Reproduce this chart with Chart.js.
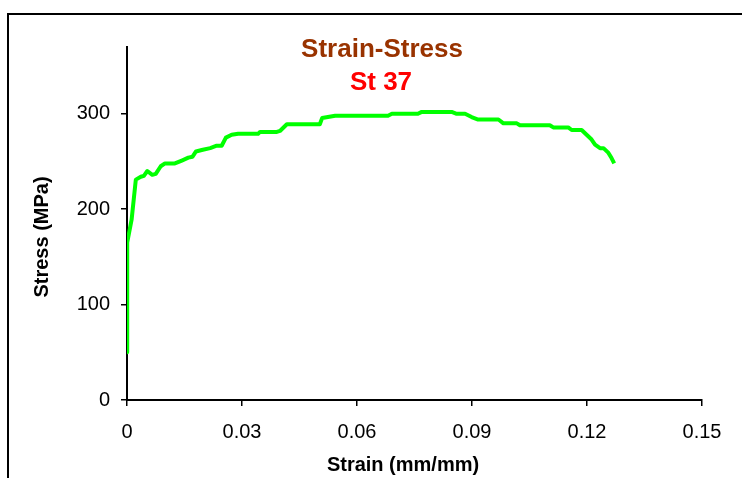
<!DOCTYPE html>
<html>
<head>
<meta charset="utf-8">
<script src="https://cdn.jsdelivr.net/npm/chart.js@4/dist/chart.umd.min.js"></script>
<style>
  html, body { margin: 0; padding: 0; background: #fff; }
  #wrap { width: 742px; height: 478px; position: relative; }
</style>
</head>
<body>
<div id="wrap"><canvas id="c" width="742" height="478"></canvas></div>
<script>
// Tensile test of St 37 steel: engineering strain vs. stress
const strain = [0, 0, 0.0001, 0.0012, 0.0023, 0.0036, 0.0044, 0.0053, 0.0066, 0.0075,
  0.0088, 0.0099, 0.0125, 0.0143, 0.016, 0.0171, 0.018, 0.0195, 0.0217, 0.0234,
  0.0247, 0.0258, 0.0273, 0.029, 0.0342, 0.0347, 0.0391, 0.0399, 0.0417, 0.0503,
  0.0509, 0.0543, 0.0681, 0.0691, 0.0759, 0.0769, 0.0847, 0.086, 0.0882, 0.0899,
  0.0916, 0.0969, 0.0982, 0.1017, 0.1025, 0.1103, 0.1112, 0.1151, 0.116, 0.1186,
  0.1199, 0.1212, 0.1221, 0.1234, 0.1243, 0.1256, 0.1264, 0.1271];
const stress = [50, 102, 165, 189, 231, 234, 235, 240, 236, 237,
  245, 248, 248, 251, 254, 255, 260.5, 262, 264, 266.5,
  266.5, 275, 278, 279, 279, 281, 281, 282, 289, 289,
  295.5, 298, 298, 300, 300, 302, 302, 300, 300, 296.6,
  294, 294, 290, 290, 288, 288, 285.7, 285.7, 283, 283,
  278, 273, 267.6, 264, 264, 259, 253.6, 248];

const strainTicks = [0, 0.03, 0.06, 0.09, 0.12, 0.15];
const strainTickLabels = ['0', '0.03', '0.06', '0.09', '0.12', '0.15'];
const stressTicks = [0, 100, 200, 300];
const stressTickLabels = ['0', '100', '200', '300'];

const chartTitle = 'Strain-Stress';
const chartSubtitle = 'St 37';
const xTitle = 'Strain (mm/mm)';
const yTitle = 'Stress (MPa)';

const FONT = '"Liberation Sans", Arial, sans-serif';

const points = strain.map((x, i) => ({ x: x, y: stress[i] }));

// Outer frame, headings and axis captions
const decorations = {
  id: 'decorations',
  beforeDraw(chart) {
    const ctx = chart.ctx;
    ctx.save();
    ctx.fillStyle = '#ffffff';
    ctx.fillRect(0, 0, chart.width, chart.height);
    ctx.strokeStyle = '#000000';
    ctx.lineWidth = 2;
    ctx.strokeRect(8, 14, chart.width + 20, chart.height + 20);
    ctx.restore();
  },
  afterDraw(chart) {
    const ctx = chart.ctx;
    ctx.save();
    ctx.textAlign = 'center';
    ctx.textBaseline = 'alphabetic';
    ctx.font = 'bold 26px ' + FONT;
    ctx.fillStyle = '#993300';
    ctx.fillText(chartTitle, 382, 57);
    ctx.fillStyle = '#ff0000';
    ctx.fillText(chartSubtitle, 381, 90);

    ctx.fillStyle = '#000000';
    ctx.font = 'bold 20px ' + FONT;
    ctx.textBaseline = 'middle';
    ctx.fillText(xTitle, 403, 465);
    ctx.translate(42, 237);
    ctx.rotate(-Math.PI / 2);
    ctx.fillText(yTitle, 0, 0);
    ctx.restore();
  }
};

new Chart(document.getElementById('c'), {
  type: 'scatter',
  data: {
    datasets: [{
      data: points,
      showLine: true,
      borderColor: '#00ff00',
      backgroundColor: '#00ff00',
      borderWidth: 4,
      pointRadius: 0,
      tension: 0,
      borderJoinStyle: 'round'
    }]
  },
  options: {
    responsive: false,
    animation: false,
    layout: { padding: { top: 47, right: 40, left: 0, bottom: 0 } },
    plugins: {
      legend: { display: false },
      title: { display: false },
      tooltip: { enabled: false }
    },
    scales: {
      x: {
        type: 'linear',
        min: 0,
        max: 0.15,
        afterFit(s) { s.height = 78; },
        afterBuildTicks(s) { s.ticks = strainTicks.map(v => ({ value: v })); },
        ticks: {
          color: '#000',
          font: { family: FONT, size: 20 },
          padding: 14,
          maxRotation: 0,
          autoSkip: false,
          callback: (v, i) => strainTickLabels[i]
        },
        grid: { display: true, drawOnChartArea: false, drawTicks: true, tickLength: 6, color: '#000', lineWidth: 1.5 },
        border: { display: true, color: '#000', width: 2 }
      },
      y: {
        type: 'linear',
        min: 0,
        max: 370,
        afterFit(s) { s.width = 127; },
        afterBuildTicks(s) { s.ticks = stressTicks.map(v => ({ value: v })); },
        ticks: {
          color: '#000',
          font: { family: FONT, size: 20 },
          padding: 11,
          autoSkip: false,
          callback: (v, i) => stressTickLabels[i]
        },
        grid: { display: true, drawOnChartArea: false, drawTicks: true, tickLength: 6, color: '#000', lineWidth: 1.5 },
        border: { display: true, color: '#000', width: 2 }
      }
    }
  },
  plugins: [decorations]
});
</script>
</body>
</html>
